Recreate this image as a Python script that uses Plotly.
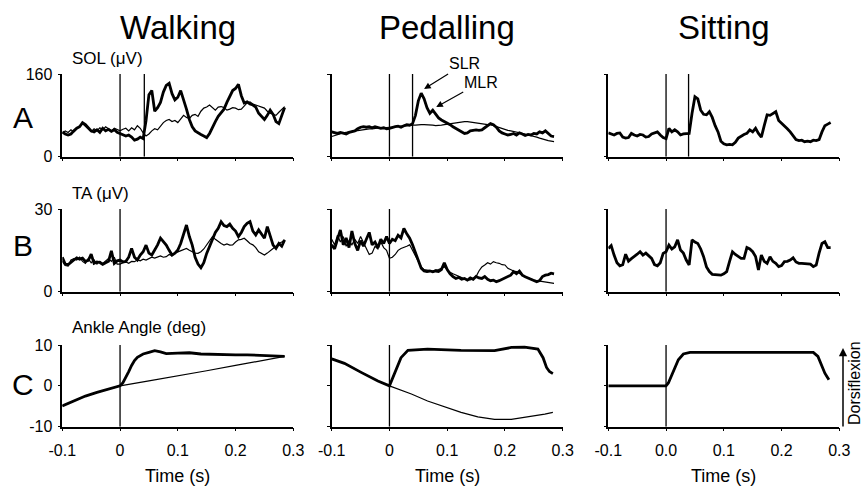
import plotly.graph_objects as go

# ---------------- data ----------------
T_START = -0.1
T_STEP = 0.005
N = 78
time_grid = [round(T_START + T_STEP * i, 3) for i in range(N)]

columns = ["Walking", "Pedalling", "Sitting"]
row_letters = ["A", "B", "C"]
row_titles = ["SOL (\u03bcV)", "TA (\u03bcV)", "Ankle Angle (deg)"]
y_ranges = [[0, 160], [0, 30], [-10, 10]]
y_tickvals = [[0, 160], [0, 30], [-10, 0, 10]]
y_ticktext = [["0", "160"], ["0", "30"], ["-10", "0", "10"]]
x_tickvals = [-0.1, 0.0, 0.1, 0.2, 0.3]
x_ticktext = [["-0.1", "0", "0.1", "0.2", "0.3"],
              ["-0.1", "0", "0.1", "0.2", "0.3"],
              ["-0.1", "0.0", "0.1", "0.2", "0.3"]]
stim_times_A = [[0.0, 0.042], [0.0, 0.040], [0.0, 0.039]]
stim_times_other = [0.0]

# SOL walking
sol_walk_thick = [48, 44, 42, 44, 50, 55, 58, 66, 62, 55, 50, 48, 52, 47, 55, 50, 53, 49, 52, 47,
                  45, 43, 40, 42, 38, 32, 34, 38, 35, 70, 120, 128, 88, 95, 105, 125, 138, 142, 122, 110,
                  115, 128, 112, 92, 72, 58, 50, 46, 43, 40, 37, 45, 58, 68, 78, 84, 92, 105, 118, 128,
                  132, 140, 118, 104, 106, 102, 100, 96, 84, 78, 72, 80, 90, 82, 68, 64, 78, 95]
sol_walk_thin = [45, 50, 47, 52, 48, 55, 60, 64, 58, 52, 48, 54, 50, 56, 52, 58, 54, 50, 55, 52,
                 50, 53, 55, 50, 56, 52, 60, 55, 46, 40, 44, 50, 54, 52, 60, 66, 70, 72, 68, 70,
                 66, 72, 80, 76, 74, 80, 82, 78, 88, 94, 96, 100, 94, 90, 96, 97, 95, 90, 92, 95,
                 94, 91, 92, 98, 104, 106, 102, 100, 98, 95, 94, 88, 84, 82, 80, 86, 92, 97]
# SOL pedalling
sol_ped_thick = [48, 47, 45, 47, 46, 44, 47, 48, 50, 54, 57, 58, 57, 58, 56, 58, 57, 55, 56, 54,
                 55, 57, 58, 59, 57, 60, 62, 61, 64, 80, 108, 123, 112, 95, 84, 90, 82, 75, 71, 68,
                 66, 62, 58, 55, 52, 48, 45, 46, 50, 51, 52, 51, 52, 56, 60, 64, 62, 57, 50, 46,
                 44, 42, 43, 45, 42, 46, 44, 41, 43, 42, 45, 44, 48, 46, 50, 44, 40, 39]
sol_ped_thin = [39, 41, 43, 45, 46, 47, 48, 49, 50, 51, 52, 52, 53, 54, 54, 55, 55, 56, 56, 57,
                57, 57, 58, 58, 59, 59, 60, 60, 61, 61, 62, 62, 62, 62, 61, 61, 60, 60, 61, 62,
                63, 64, 65, 66, 67, 67, 68, 68, 67, 67, 66, 65, 64, 63, 62, 62, 60, 58, 56, 54,
                52, 51, 50, 49, 48, 47, 45, 44, 42, 41, 39, 38, 36, 34, 33, 31, 30, 29]
# SOL sitting
sol_sit = [46, 44, 42, 45, 46, 38, 36, 37, 45, 42, 40, 43, 42, 38, 39, 44, 46, 48, 42, 37,
           35, 55, 48, 52, 48, 42, 44, 44, 45, 84, 116, 112, 90, 82, 81, 87, 76, 60, 48, 30,
           25, 23, 24, 23, 28, 36, 40, 43, 45, 52, 48, 55, 45, 38, 60, 81, 80, 84, 87, 70,
           65, 60, 54, 48, 40, 33, 31, 32, 29, 30, 29, 32, 31, 33, 48, 60, 63, 66]
# TA walking
ta_walk_thick = [12.5, 10.0, 9.8, 10.8, 11.5, 12.3, 11.8, 12.2, 11.0, 11.4, 13.6, 10.3, 10.8, 10.6, 9.9, 10.5, 11.0, 14.8, 10.3, 11.2,
                 11.5, 10.8, 11.0, 12.5, 15.7, 12.5, 11.5, 13.3, 14.5, 16.9, 14.0, 13.3, 15.1, 17.0, 19.4, 18.0, 16.9, 15.0, 13.3, 14.0,
                 15.1, 17.5, 21.0, 24.2, 20.0, 16.9, 12.5, 10.0, 8.7, 10.5, 13.9, 16.5, 19.4, 21.5, 23.0, 25.4, 24.0, 23.6, 24.5, 23.0,
                 22.0, 20.0, 21.5, 23.6, 24.8, 25.4, 22.0, 20.6, 22.4, 21.0, 19.4, 23.6, 20.0, 16.9, 15.7, 17.5, 16.5, 18.8]
ta_walk_thin = [11.0, 9.5, 9.3, 11.5, 12.0, 11.5, 12.5, 11.0, 10.3, 12.0, 10.5, 11.5, 10.0, 11.0, 10.2, 11.0, 12.0, 11.0, 12.5, 10.0,
                10.0, 10.5, 10.8, 10.3, 11.0, 10.9, 11.5, 11.2, 11.8, 11.5, 12.0, 12.5, 12.2, 12.7, 13.0, 12.5, 12.7, 13.5, 13.0, 14.0,
                14.5, 15.0, 15.3, 15.7, 15.0, 14.5, 14.0, 13.9, 14.5, 15.5, 16.9, 18.5, 20.0, 19.0, 18.1, 17.5, 16.9, 17.3, 16.9, 17.0,
                18.0, 18.8, 19.0, 19.4, 18.5, 17.5, 17.0, 16.0, 14.5, 14.0, 13.3, 14.0, 15.0, 15.7, 16.5, 17.5, 18.0, 18.8]
# TA pedalling
ta_ped_thick = [17.0, 15.5, 19.0, 22.4, 17.0, 19.5, 16.0, 22.0, 17.5, 15.0, 18.5, 16.5, 19.0, 21.5, 17.0, 18.0, 16.0, 19.0, 17.5, 20.0,
                17.5, 19.0, 18.5, 20.5, 19.5, 23.0, 21.0, 19.4, 17.0, 14.0, 11.0, 8.5, 7.5, 7.3, 7.5, 7.2, 7.5, 7.3, 8.0, 10.5,
                8.0, 6.5, 5.5, 4.8, 5.2, 4.5, 4.8, 4.2, 5.0, 4.5, 5.5, 5.0, 4.8, 5.5, 4.5, 4.0, 4.2, 3.6, 4.0, 4.5,
                5.0, 5.4, 6.0, 7.3, 6.5, 7.5, 6.0, 5.4, 5.0, 4.5, 4.0, 3.6, 4.0, 5.5, 6.0, 6.2, 6.7, 6.5]
ta_ped_thin = [19.0, 17.0, 20.5, 18.0, 20.0, 16.5, 18.5, 17.0, 19.0, 17.5, 20.0, 18.0, 16.0, 13.5, 14.0, 16.5, 15.5, 18.0, 16.0, 15.0,
               12.1, 12.5, 13.5, 15.0, 15.7, 16.0, 16.5, 17.0, 15.0, 13.3, 11.0, 9.0, 8.0, 7.9, 7.8, 7.5, 7.9, 8.0, 8.5, 9.0,
               8.0, 7.0, 6.5, 6.0, 5.5, 5.0, 4.5, 4.2, 4.3, 4.8, 5.5, 7.5, 9.0, 9.7, 10.5, 10.0, 10.9, 10.5, 10.3, 9.8,
               9.7, 8.5, 7.9, 7.5, 7.3, 6.5, 6.0, 5.4, 5.0, 4.5, 4.2, 4.0, 3.8, 3.6, 3.4, 3.2, 3.0, 3.0]
# TA sitting
ta_sit = [15.7, 16.7, 13.3, 10.5, 9.4, 9.8, 13.6, 11.1, 12.0, 12.7, 13.6, 14.5, 13.3, 14.0, 13.0, 12.1, 9.8, 9.4, 10.5, 13.9,
          14.5, 16.9, 15.5, 16.3, 18.8, 15.1, 14.0, 11.5, 9.7, 18.8, 18.0, 17.5, 15.5, 12.7, 9.0, 7.3, 6.3, 6.2, 6.0, 6.0,
          6.5, 7.3, 11.0, 14.5, 13.5, 12.7, 12.1, 12.1, 16.0, 15.5, 14.5, 12.8, 7.9, 13.3, 11.0, 10.3, 12.7, 11.0, 10.3, 9.1,
          9.5, 10.9, 11.0, 11.5, 12.3, 10.8, 10.3, 10.3, 10.2, 10.3, 10.0, 9.1, 9.7, 14.0, 17.5, 18.1, 16.0, 16.0]

# Ankle angle
ank_walk_thick_t = [-0.1, -0.08, -0.06, -0.04, -0.02, 0.0, 0.005, 0.01, 0.015, 0.02, 0.025, 0.03, 0.04, 0.05,
                    0.06, 0.07, 0.08, 0.1, 0.12, 0.14, 0.16, 0.18, 0.2, 0.22, 0.24, 0.26, 0.285]
ank_walk_thick = [-4.9, -3.6, -2.5, -1.6, -0.8, 0.0, 0.8, 2.0, 3.5, 5.0, 6.2, 7.0, 7.8, 8.2,
                  8.6, 8.3, 7.9, 8.0, 8.1, 7.8, 7.7, 7.6, 7.6, 7.6, 7.5, 7.4, 7.2]
ank_walk_thin_t = [-0.1, -0.08, -0.06, -0.04, -0.02, 0.0, 0.05, 0.1, 0.15, 0.2, 0.25, 0.285]
ank_walk_thin = [-4.9, -3.6, -2.5, -1.6, -0.8, 0.0, 1.2, 2.4, 3.7, 5.0, 6.3, 7.2]

ank_ped_thick_t = [-0.1, -0.078, -0.049, -0.02, 0.0, 0.009, 0.02, 0.032, 0.066, 0.124, 0.182, 0.211,
                   0.234, 0.257, 0.266, 0.272, 0.277, 0.283]
ank_ped_thick = [6.6, 5.5, 3.3, 1.2, 0.0, 3.3, 6.9, 8.7, 9.0, 8.7, 8.6, 9.4,
                 9.5, 9.0, 6.9, 4.5, 3.5, 3.0]
ank_ped_thin_t = [-0.1, -0.078, -0.049, -0.02, 0.0, 0.038, 0.066, 0.095, 0.124, 0.153, 0.182, 0.211,
                  0.24, 0.269, 0.283]
ank_ped_thin = [6.6, 5.5, 3.3, 1.2, 0.0, -2.0, -3.7, -5.1, -6.5, -7.6, -8.2, -8.2,
                -7.6, -6.9, -6.5]

ank_sit_t = [-0.1, 0.0, 0.004, 0.0127, 0.0213, 0.03, 0.0415, 0.105, 0.255, 0.263, 0.269, 0.275, 0.282]
ank_sit = [0.0, 0.0, 0.7, 3.5, 6.4, 7.8, 8.2, 8.2, 8.2, 7.2, 5.2, 3.1, 1.5]

# ---------------- layout geometry ----------------
W, H = 865, 489
col_px = [(62.3, 293.3), (331.7, 562.7), (608.3, 839.3)]
row_px = [(74.0, 156.7), (209.0, 291.7), (345.0, 426.7)]

FONT = "Liberation Sans, Arial, Helvetica, sans-serif"
THICK = 2.8
THIN = 1.2

fig = go.Figure()


def ax_id(r, c):
    return r * 3 + c + 1


panels = {
    (0, 0): [(time_grid, sol_walk_thin, THIN), (time_grid, sol_walk_thick, THICK)],
    (0, 1): [(time_grid, sol_ped_thin, THIN), (time_grid, sol_ped_thick, THICK)],
    (0, 2): [(time_grid, sol_sit, THICK)],
    (1, 0): [(time_grid, ta_walk_thin, THIN), (time_grid, ta_walk_thick, THICK)],
    (1, 1): [(time_grid, ta_ped_thin, THIN), (time_grid, ta_ped_thick, THICK)],
    (1, 2): [(time_grid, ta_sit, THICK)],
    (2, 0): [(ank_walk_thin_t, ank_walk_thin, THIN), (ank_walk_thick_t, ank_walk_thick, THICK)],
    (2, 1): [(ank_ped_thin_t, ank_ped_thin, THIN), (ank_ped_thick_t, ank_ped_thick, THICK)],
    (2, 2): [(ank_sit_t, ank_sit, THICK)],
}

layout = dict(
    width=W, height=H,
    margin=dict(l=0, r=0, t=0, b=0, pad=0, autoexpand=False),
    paper_bgcolor="white", plot_bgcolor="white", showlegend=False,
    font=dict(family=FONT, color="black", size=15),
)
annotations = []


def txt(text, x, y, size, xref="paper", yref="paper", **kw):
    d = dict(text=text, xref=xref, yref=yref, x=x, y=y, showarrow=False,
             xanchor="center", yanchor="middle", font=dict(size=size, family=FONT, color="black"))
    d.update(kw)
    return d


for r in range(3):
    for c in range(3):
        k = ax_id(r, c)
        xs = "" if k == 1 else str(k)
        stims = stim_times_A[c] if r == 0 else stim_times_other
        for st in stims:
            fig.add_trace(go.Scatter(x=[st, st], y=y_ranges[r], mode="lines",
                                     line=dict(color="black", width=1.3),
                                     xaxis="x" + xs, yaxis="y" + xs, hoverinfo="skip"))
        for (tt, yy, w) in panels[(r, c)]:
            fig.add_trace(go.Scatter(x=tt, y=yy, mode="lines",
                                     line=dict(color="black", width=w),
                                     xaxis="x" + xs, yaxis="y" + xs, hoverinfo="skip"))
        x0, x1 = col_px[c]
        y0, y1 = row_px[r]
        layout["xaxis" + xs] = dict(
            domain=[x0 / W, x1 / W], anchor="y" + xs, range=[-0.1, 0.3], automargin=False,
            showgrid=False, zeroline=False, showline=True, linecolor="black", linewidth=1.5,
            ticks="outside", ticklen=3, tickwidth=1.2, tickcolor="black",
            tickvals=x_tickvals, ticktext=x_ticktext[c], showticklabels=(r == 2),
            tickfont=dict(size=16, family=FONT), ticklabelstandoff=5,
        )
        layout["yaxis" + xs] = dict(
            domain=[1 - y1 / H, 1 - y0 / H], anchor="x" + xs, range=y_ranges[r], automargin=False,
            showgrid=False, zeroline=False, showline=True, linecolor="black", linewidth=1.5,
            ticks="outside", ticklen=3, tickwidth=1.2, tickcolor="black",
            tickvals=y_tickvals[r], ticktext=y_ticktext[r], showticklabels=(c == 0),
            tickfont=dict(size=16, family=FONT), ticklabelstandoff=2,
        )
        if r == 2:
            annotations.append(txt("Time (s)", 0.5, 1 - 476 / H, 18, xref="x" + xs + " domain"))

# column titles (centred on t = 0.1)
for c, name in enumerate(columns):
    xs = "" if c == 0 else str(c + 1)
    annotations.append(txt(name, 0.1, 1 - 27 / H, 33, xref="x" + xs))

# row letters and row titles
letter_y = [117.5, 245.0, 384.0]
title_y = [58.0, 193.0, 327.0]
for r in range(3):
    annotations.append(txt(row_letters[r], 23 / W, 1 - letter_y[r] / H, 30))
    annotations.append(txt(row_titles[r], 70 / W, 1 - title_y[r] / H, 17, xanchor="left"))

# SLR / MLR arrows (pedalling, row A)
for label, tx, ty, axp, ayp in [("SLR", 0.060, 131, 40, -25), ("MLR", 0.081, 96, 45, -25)]:
    annotations.append(dict(text=label, xref="x2", yref="y2", x=tx, y=ty, ax=axp, ay=ayp,
                            showarrow=True, arrowhead=2, arrowsize=1.1, arrowwidth=1.2,
                            arrowcolor="black", font=dict(size=16, family=FONT, color="black")))

# Dorsiflexion arrow and label
annotations.append(dict(text="", xref="paper", yref="paper", x=843 / W, y=1 - 348 / H,
                        ax=0, ay=80, showarrow=True, arrowhead=2, arrowsize=1.1,
                        arrowwidth=1.5, arrowcolor="black"))
annotations.append(txt("Dorsiflexion", 854 / W, 1 - 383 / H, 16, textangle=-90,
                       borderpad=0))

layout["annotations"] = annotations
fig.update_layout(**layout)
fig.write_html("out.html", config={"displayModeBar": False},
               post_script="document.body.style.margin='0px';document.body.style.overflow='hidden';")
